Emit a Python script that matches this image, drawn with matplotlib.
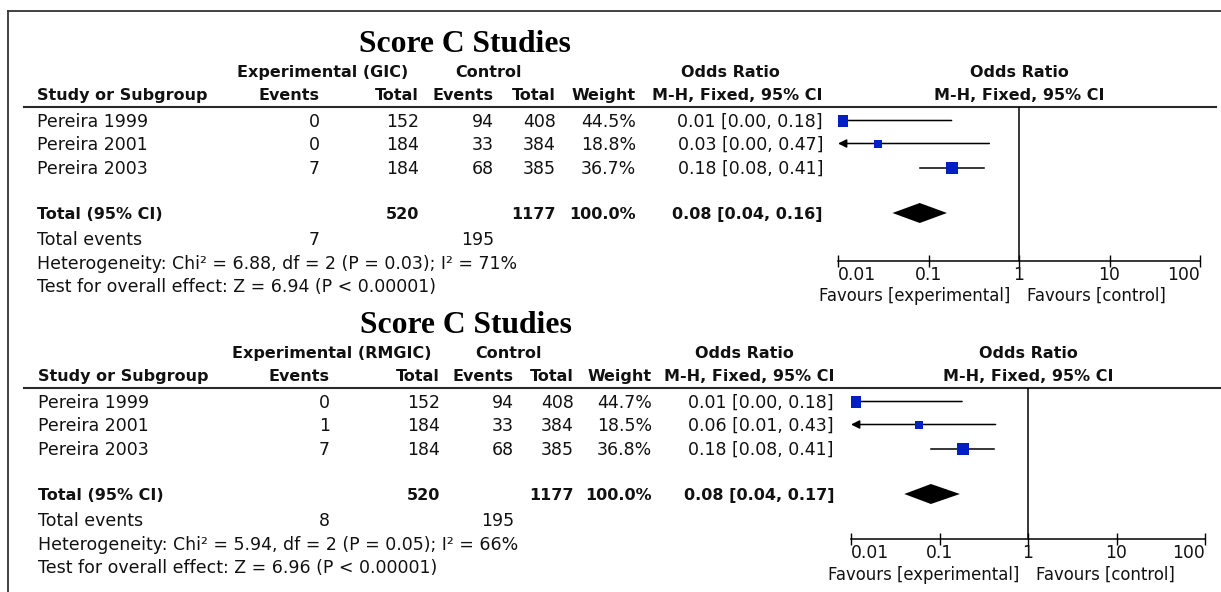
import matplotlib
matplotlib.use('Agg')
import matplotlib.pyplot as plt
import numpy as np
from matplotlib.ticker import NullLocator

# study data
studies = ['Pereira 1999', 'Pereira 2001', 'Pereira 2003']
ctrl_events = [94, 33, 68]
ctrl_total = [408, 384, 385]

gic_events = [0, 0, 7]
gic_total = [152, 184, 184]
gic_weight = [44.5, 18.8, 36.7]
gic_or = [0.011, 0.028, 0.184]
gic_lo = [0.0, 0.0, 0.08]
gic_hi = [0.18, 0.47, 0.41]
gic_pooled = [0.08, 0.04, 0.16]
gic_het = [6.88, 2, 0.03, 71]   # chi2, df, p, I2
gic_z = 6.94

rmgic_events = [0, 1, 7]
rmgic_total = [152, 184, 184]
rmgic_weight = [44.7, 18.5, 36.8]
rmgic_or = [0.011, 0.058, 0.184]
rmgic_lo = [0.0, 0.008, 0.08]
rmgic_hi = [0.18, 0.43, 0.41]
rmgic_pooled = [0.08, 0.04, 0.17]
rmgic_het = [5.94, 2, 0.05, 66]
rmgic_z = 6.96

ticks = [0.01, 0.1, 1, 10, 100]
tick_labels = ['0.01', '0.1', '1', '10', '100']

W, H = 1221, 592
FS = 12.5     # regular text
FSB = 11.5    # bold text
TXT = '#111111'
BLUE = '#0020c4'

plt.rcParams['font.family'] = ['DejaVu Sans']

fig = plt.figure(figsize=(W / 100, H / 100), dpi=100)
base = fig.add_axes([0, 0, 1, 1])
base.set_xlim(0, W)
base.set_ylim(H, 0)
base.axis('off')

# outer frame (top and left only)
base.plot([8, W], [11, 11], color='#333333', lw=1.3)
base.plot([8, 8], [11, H], color='#333333', lw=1.3)


def txt(x, y, s, ha='left', bold=False, size=None):
    base.text(x, y, s, ha=ha, va='baseline', color=TXT,
              fontsize=size or (FSB if bold else FS),
              fontweight='bold' if bold else 'normal')


def draw_panel(exp_name, events, total, weight, ors, los, his, pooled,
               het, z, L):
    dy = L['dy']
    # title and headers
    base.text(L['title'], 52 + dy, 'Score C Studies', ha='center', va='baseline',
              fontsize=22.8, fontweight='bold', family='Liberation Serif',
              color='black')
    txt(L['exp_c'], 77 + dy, exp_name, ha='center', bold=True)
    txt(L['ctrl_c'], 77 + dy, 'Control', ha='center', bold=True)
    txt(L['orh_c'], 77 + dy, 'Odds Ratio', ha='center', bold=True)
    txt(L['study'], 100 + dy, 'Study or Subgroup', bold=True)
    txt(L['ev'], 100 + dy, 'Events', ha='right', bold=True)
    txt(L['tot'], 100 + dy, 'Total', ha='right', bold=True)
    txt(L['cev'], 100 + dy, 'Events', ha='right', bold=True)
    txt(L['ctot'], 100 + dy, 'Total', ha='right', bold=True)
    txt(L['w'], 100 + dy, 'Weight', ha='right', bold=True)
    txt(L['or'], 100 + dy, 'M-H, Fixed, 95% CI', ha='right', bold=True)
    base.plot([24, L['hline_end']], [107 + dy, 107 + dy], color='#2a2a2a', lw=1.5)

    rows = [127 + dy, 150 + dy, 174 + dy]
    for i, s in enumerate(studies):
        y = rows[i]
        txt(L['study'], y, s)
        txt(L['ev'], y, str(events[i]), ha='right')
        txt(L['tot'], y, str(total[i]), ha='right')
        txt(L['cev'], y, str(ctrl_events[i]), ha='right')
        txt(L['ctot'], y, str(ctrl_total[i]), ha='right')
        txt(L['w'], y, f'{weight[i]:.1f}%', ha='right')
        txt(L['or'], y, f'{ors[i]:.2f} [{los[i]:.2f}, {his[i]:.2f}]', ha='right')

    ty = 219 + dy
    txt(L['study'], ty, 'Total (95% CI)', bold=True)
    txt(L['tot'], ty, str(sum(total)), ha='right', bold=True)
    txt(L['ctot'], ty, str(sum(ctrl_total)), ha='right', bold=True)
    txt(L['w'], ty, f'{sum(weight):.1f}%', ha='right', bold=True)
    txt(L['or'], ty, f'{pooled[0]:.2f} [{pooled[1]:.2f}, {pooled[2]:.2f}]',
        ha='right', bold=True)
    txt(L['study'], 245 + dy, 'Total events')
    txt(L['ev'], 245 + dy, str(sum(events)), ha='right')
    txt(L['cev'], 245 + dy, str(sum(ctrl_events)), ha='right')
    txt(L['study'], 269 + dy,
        f'Heterogeneity: Chi\u00b2 = {het[0]:.2f}, df = {het[1]} (P = {het[2]:.2f}); '
        f'I\u00b2 = {het[3]}%')
    txt(L['study'], 292 + dy, f'Test for overall effect: Z = {z:.2f} (P < 0.00001)')

    # forest plot
    top, axis_y = 107 + dy, L['axis_y']
    x0, x1 = L['plot']
    ax = fig.add_axes([x0 / W, 1 - axis_y / H, (x1 - x0) / W, (axis_y - top) / H])
    ax.patch.set_visible(False)
    ax.set_xscale('log')
    ax.set_xlim(ticks[0], ticks[-1])
    ax.set_ylim(axis_y, top)
    for sp in ['top', 'left', 'right']:
        ax.spines[sp].set_visible(False)
    ax.spines['bottom'].set_linewidth(1.1)
    ax.set_xticks(ticks)
    ax.xaxis.set_minor_locator(NullLocator())
    ax.set_yticks([])
    ax.tick_params(axis='x', direction='inout', length=8.5, width=1.0,
                   labelbottom=False)
    ax.axvline(1, color='black', lw=1.1)

    for i in range(len(studies)):
        y = rows[i] - 6.5
        if los[i] < ticks[0]:
            ax.annotate('', xy=(ticks[0], y), xytext=(his[i], y),
                        arrowprops=dict(arrowstyle='-|>,head_length=0.5,head_width=0.25',
                                        color='black', lw=1.1, shrinkA=0, shrinkB=0))
        else:
            ax.plot([los[i], his[i]], [y, y], color='black', lw=1.1)
        side = 1.9 * np.sqrt(weight[i]) * 0.72
        ax.plot(ors[i], y, marker='s', ms=side, color=BLUE, mec=BLUE, mew=0,
                zorder=5)

    dyd = ty - 6
    ax.fill([pooled[1], pooled[0], pooled[2], pooled[0]],
            [dyd, dyd - 10, dyd, dyd + 10], color='black', lw=0)

    for t, lab in zip(ticks, tick_labels):
        ha = 'left' if t == ticks[0] else ('right' if t == ticks[-1] else 'center')
        ax.text(t, axis_y + 19, lab, ha=ha, va='baseline', fontsize=12.3,
                color=TXT, clip_on=False)
    ax.annotate('Favours [experimental]', xy=(1, L['fav_y']), xytext=(-6.5, 0),
                textcoords='offset points', ha='right', va='baseline',
                fontsize=11.9, color=TXT, annotation_clip=False)
    ax.annotate('Favours [control]', xy=(1, L['fav_y']), xytext=(5.5, 0),
                textcoords='offset points', ha='left', va='baseline',
                fontsize=11.9, color=TXT, annotation_clip=False)
    # header above plot, centred on the line of no effect
    ax.text(1, 77 + dy, 'Odds Ratio', ha='center', va='baseline', fontsize=FSB,
            fontweight='bold', color=TXT, clip_on=False)
    ax.text(1, 100 + dy, 'M-H, Fixed, 95% CI', ha='center', va='baseline',
            fontsize=FSB, fontweight='bold', color=TXT, clip_on=False)


layout_gic = dict(dy=0, title=465, study=37, ev=320, tot=419, cev=494, ctot=556,
                  w=636, exp_c=323, ctrl_c=489, orh_c=730,
                  plot=(838, 1200), axis_y=261, fav_y=301, hline_end=1216)
layout_gic['or'] = 823
layout_rmgic = dict(dy=281, title=466, study=38, ev=330, tot=440, cev=514, ctot=574,
                    w=652, exp_c=332, ctrl_c=509, orh_c=744,
                    plot=(851, 1205), axis_y=539, fav_y=580, hline_end=W)
layout_rmgic['or'] = 834

draw_panel('Experimental (GIC)', gic_events, gic_total, gic_weight, gic_or,
           gic_lo, gic_hi, gic_pooled, gic_het, gic_z, layout_gic)
draw_panel('Experimental (RMGIC)', rmgic_events, rmgic_total, rmgic_weight, rmgic_or,
           rmgic_lo, rmgic_hi, rmgic_pooled, rmgic_het, rmgic_z, layout_rmgic)

fig.savefig('out.png', dpi=100)
